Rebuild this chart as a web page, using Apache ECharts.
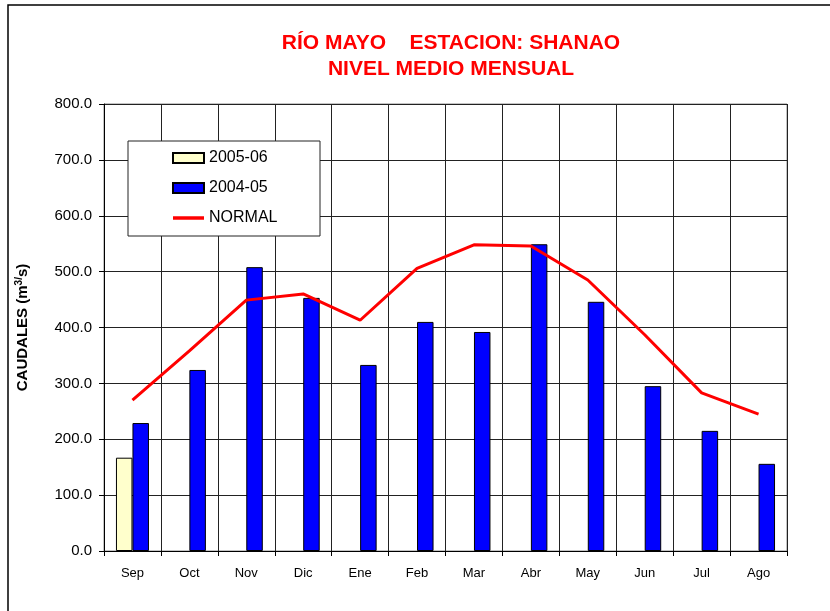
<!DOCTYPE html>
<html>
<head>
<meta charset="utf-8">
<script src="https://cdn.jsdelivr.net/npm/echarts@6/dist/echarts.min.js"></script>
<style>
  html, body { margin: 0; padding: 0; background: #fff; }
  #chart { width: 830px; height: 611px; }
</style>
</head>
<body>
<div id="chart"></div>
<script>
// Monthly discharge, Río Mayo at Shanao station
const months = ['Sep', 'Oct', 'Nov', 'Dic', 'Ene', 'Feb', 'Mar', 'Abr', 'May', 'Jun', 'Jul', 'Ago'];
const season2005 = [167, null, null, null, null, null, null, null, null, null, null, null];
const season2004 = [229, 324, 508, 453, 333, 410, 392, 549, 446, 295, 215, 156];
const normal = [270, 358, 449, 460, 413, 506, 548, 546, 485, 387, 283, 245];

const font = 'Arial, "Liberation Sans", sans-serif';

const chart = echarts.init(document.getElementById('chart'), null, { renderer: 'canvas' });
chart.setOption({
  animation: false,
  backgroundColor: '#fff',
  textStyle: { fontFamily: font },
  title: {
    text: 'RÍO MAYO    ESTACION: SHANAO\nNIVEL MEDIO MENSUAL',
    left: 446,
    top: 25,
    textAlign: 'center',
    textStyle: { color: '#ff0000', fontSize: 21, fontWeight: 'bold', lineHeight: 26, fontFamily: font }
  },
  graphic: [
    {
      type: 'rect',
      shape: { x: 8, y: 5, width: 840, height: 700 },
      style: { fill: 'none', stroke: '#000', lineWidth: 1.5 },
      silent: true, z: 0
    },
    {
      type: 'rect',
      shape: { x: 128, y: 141, width: 192, height: 95 },
      style: { fill: '#fff', stroke: '#222', lineWidth: 1 },
      silent: true, z: 9
    }
  ],
  legend: {
    orient: 'vertical',
    left: 167,
    top: 145,
    itemWidth: 31,
    itemHeight: 10,
    itemGap: 14,
    z: 10,
    textStyle: { fontSize: 16, color: '#000', fontFamily: font },
    data: [
      { name: '2005-06', icon: 'rect' },
      { name: '2004-05', icon: 'rect' },
      { name: 'NORMAL', icon: 'path://M0,0 L31,0 L31,3.5 L0,3.5 Z' }
    ]
  },
  grid: {
    left: 104, right: 43, top: 104, bottom: 60,
    show: true, borderColor: '#888', borderWidth: 1
  },
  xAxis: {
    type: 'category',
    data: months,
    boundaryGap: true,
    axisLine: { lineStyle: { color: '#000', width: 1 } },
    axisTick: { show: true, length: 5, lineStyle: { color: '#000' } },
    axisLabel: { color: '#000', fontSize: 13, margin: 16, fontFamily: font },
    splitLine: { show: true, lineStyle: { color: '#222', width: 1 } }
  },
  yAxis: {
    type: 'value',
    min: 0, max: 800, interval: 100,
    name: '{n|CAUDALES (m}{s|3/}{n|s)}',
    nameLocation: 'middle',
    nameGap: 72,
    nameRotate: 90,
    nameTextStyle: {
      rich: {
        n: { fontSize: 15, fontWeight: 'bold', color: '#000', fontFamily: font },
        s: { fontSize: 10, fontWeight: 'bold', color: '#000', fontFamily: font, padding: [0, 0, 8, 0] }
      }
    },
    axisLine: { show: true, lineStyle: { color: '#000', width: 1 } },
    axisTick: { show: true, length: 5, lineStyle: { color: '#000' } },
    axisLabel: {
      color: '#000', fontSize: 15, margin: 12, fontFamily: font,
      formatter: v => v.toFixed(1)
    },
    splitLine: { show: true, lineStyle: { color: '#222', width: 1 } }
  },
  series: [
    {
      name: '2005-06',
      type: 'bar',
      data: season2005,
      barWidth: 16.5,
      barGap: '0%',
      itemStyle: { color: '#ffffcc', borderColor: '#000', borderWidth: 1 }
    },
    {
      name: '2004-05',
      type: 'bar',
      data: season2004,
      barWidth: 16.5,
      barGap: '0%',
      itemStyle: { color: '#0000ff', borderColor: '#000', borderWidth: 1 }
    },
    {
      name: 'NORMAL',
      type: 'line',
      data: normal,
      symbol: 'none',
      z: 3,
      lineStyle: { color: '#ff0000', width: 3 },
      itemStyle: { color: '#ff0000' }
    }
  ]
});
</script>
</body>
</html>
